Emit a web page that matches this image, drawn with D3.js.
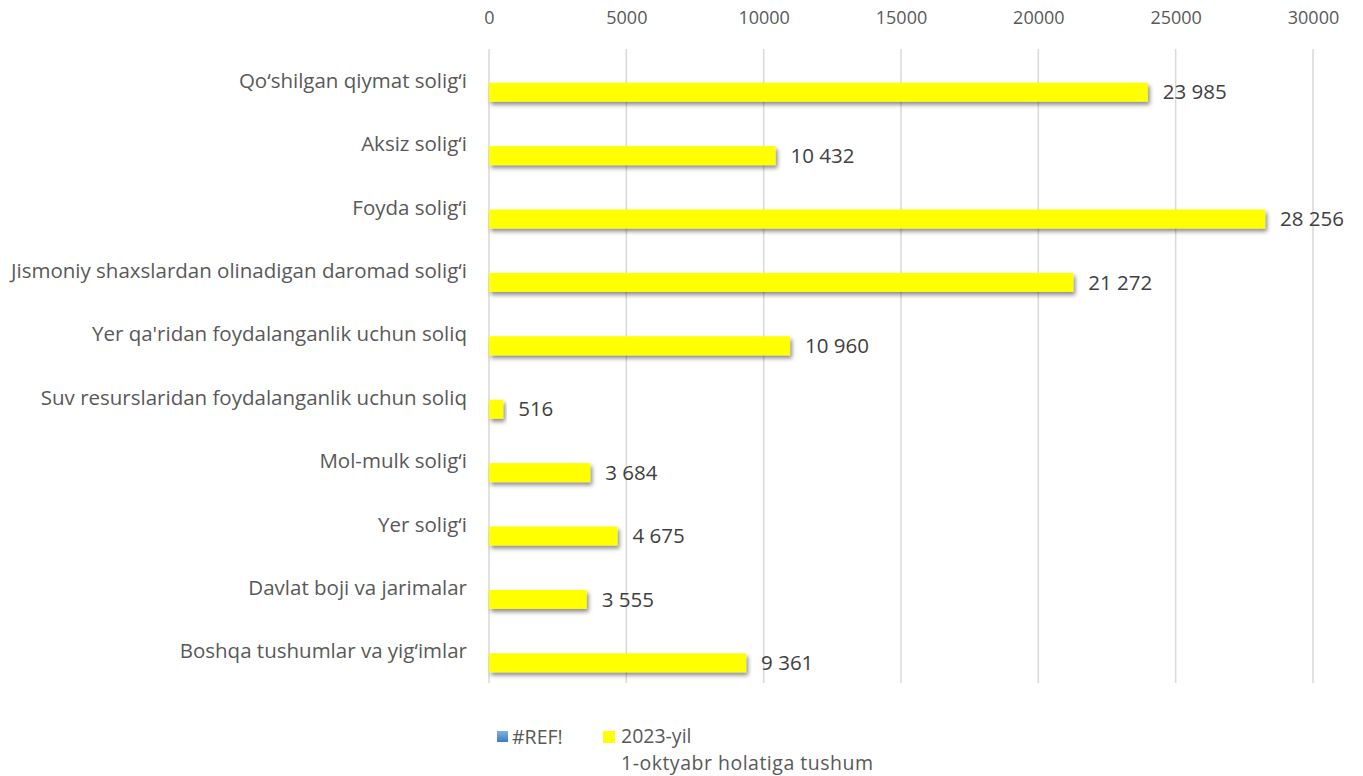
<!DOCTYPE html>
<html><head><meta charset="utf-8">
<script src="https://cdn.jsdelivr.net/npm/d3@7"></script>
<style>body{margin:0;background:#fff}svg{display:block}text{font-family:"Open Sans",sans-serif}</style>
</head><body>
<svg id="c" width="1363" height="776"></svg>
<script>
const categories = ["Qo‘shilgan qiymat solig‘i","Aksiz solig‘i","Foyda solig‘i","Jismoniy shaxslardan olinadigan daromad solig‘i","Yer qa'ridan foydalanganlik uchun soliq","Suv resurslaridan foydalanganlik uchun soliq","Mol-mulk solig‘i","Yer solig‘i","Davlat boji va jarimalar","Boshqa tushumlar va yig‘imlar"];
const seriesNames = ["#REF!","2023-yil 1-oktyabr holatiga tushum"];
const refValues = [null,null,null,null,null,null,null,null,null,null];
const values2023 = [23985,10432,28256,21272,10960,516,3684,4675,3555,9361];
const ticks = [0,5000,10000,15000,20000,25000,30000];
const colors = ["#5b9bd5","#ffff00"];

const svg = d3.select("#c");
const defs = svg.append("defs");
const f = defs.append("filter").attr("id","sh").attr("x","-10%").attr("y","-50%").attr("width","130%").attr("height","250%");
f.append("feDropShadow").attr("dx",2).attr("dy",3).attr("stdDeviation",2.2).attr("flood-color","#000").attr("flood-opacity",0.45);
const lg = defs.append("linearGradient").attr("id","bg").attr("x1",0).attr("y1",0).attr("x2",0).attr("y2",1);
lg.append("stop").attr("offset","0").attr("stop-color","#7fb2e0");
lg.append("stop").attr("offset","1").attr("stop-color","#3a7cc0");

const L=489, R=1313, T=49, B=683;
const x = d3.scaleLinear().domain([0,30000]).range([L,R]);
const y = d3.scaleBand().domain(categories).range([T,B]);
const bw = y.bandwidth();
const y1 = d3.scaleBand().domain(seriesNames).range([bw/2-17, bw/2+21]);

// grid
svg.append("g").selectAll("line").data(ticks).join("line")
 .attr("x1",d=>x(d)).attr("x2",d=>x(d)).attr("y1",T).attr("y2",B)
 .attr("stroke","#d9d9d9").attr("stroke-width",1.5);

// top axis labels
const ax = svg.append("g").attr("transform",`translate(0,${T-28})`)
 .call(d3.axisTop(x).tickValues(ticks).tickSize(0).tickFormat(d3.format("d")));
ax.select(".domain").remove();
ax.selectAll("text").attr("fill","#595959").attr("font-size",18).attr("dy","0.32em").attr("font-family","'Open Sans',sans-serif");

// category labels
svg.append("g").selectAll("text").data(categories).join("text")
 .attr("x",467).attr("y",d=>y(d)+bw/2).attr("dy","0.35em").attr("text-anchor","end")
 .attr("fill","#595959").attr("font-size",20.5).text(d=>d);

// bars
const data = categories.map((c,i)=>({c,v:values2023[i]}));
svg.append("g").selectAll("rect").data(data).join("rect")
 .attr("x",x(0)).attr("y",d=>y(d.c)+y1(seriesNames[1]))
 .attr("width",d=>x(d.v)-x(0)).attr("height",y1.bandwidth())
 .attr("fill",colors[1]).attr("filter","url(#sh)");

// value labels
const fmt = v=>d3.format(",")(v).replace(/,/g," ");
svg.append("g").selectAll("text").data(data).join("text")
 .attr("x",d=>x(d.v)+15).attr("y",d=>y(d.c)+y1(seriesNames[1])+y1.bandwidth()/2)
 .attr("dy","0.35em").attr("fill","#404040").attr("font-size",20.5).text(d=>fmt(d.v));

// legend
const lgG = svg.append("g");
lgG.append("rect").attr("x",497).attr("y",731).attr("width",11).attr("height",11).attr("fill","url(#bg)");
lgG.append("text").attr("x",512).attr("y",737).attr("dy","0.35em").attr("fill","#595959").attr("font-size",19.5).text(seriesNames[0]);
lgG.append("rect").attr("x",603).attr("y",731).attr("width",12).attr("height",12).attr("fill",colors[1]);
lgG.append("text").attr("x",621).attr("y",736).attr("dy","0.35em").attr("fill","#595959").attr("font-size",19.5).text("2023-yil");
lgG.append("text").attr("x",621).attr("y",763).attr("dy","0.35em").attr("fill","#595959").attr("font-size",19.5).attr("textLength",252).attr("lengthAdjust","spacing").text("1-oktyabr holatiga tushum");
</script>
</body></html>
